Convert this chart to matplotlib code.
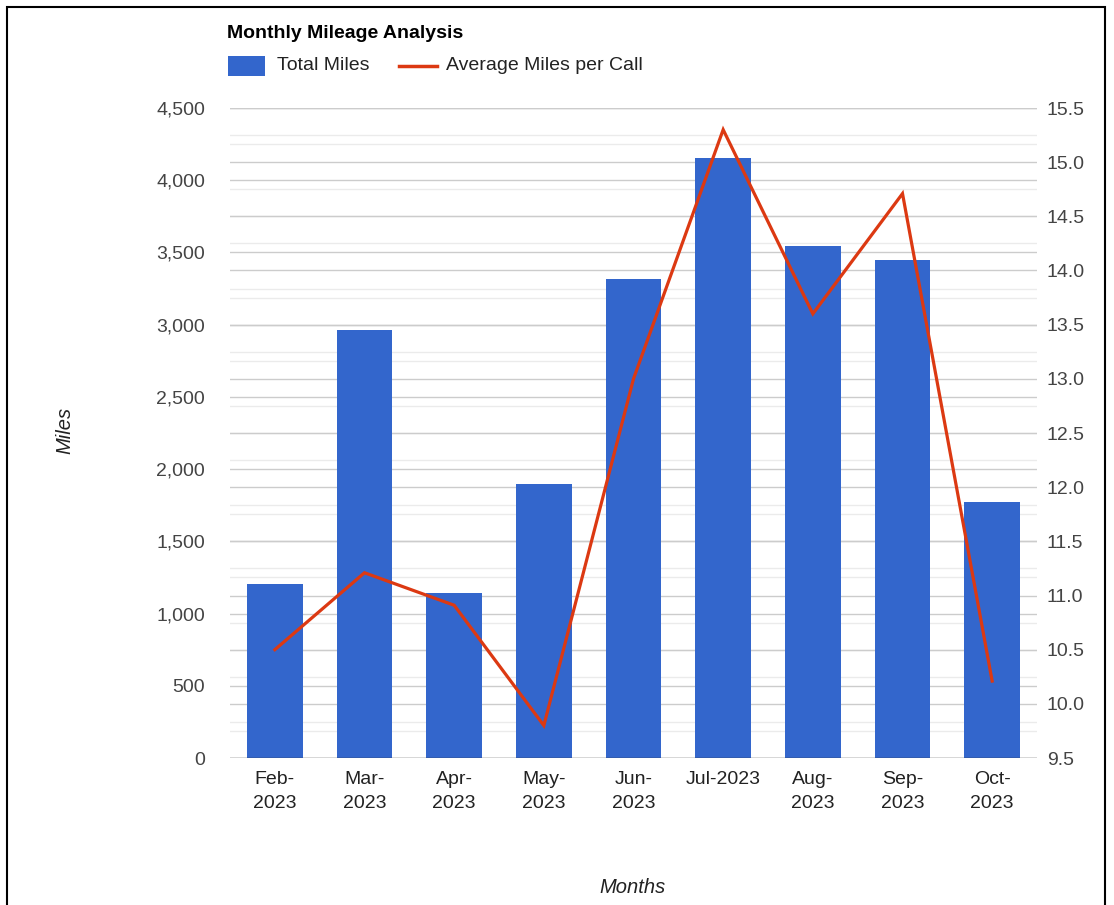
import matplotlib
matplotlib.use("Agg")
import matplotlib.pyplot as plt
import numpy as np
from matplotlib.patches import Rectangle
from matplotlib.lines import Line2D

months = ["Feb-2023", "Mar-2023", "Apr-2023", "May-2023", "Jun-2023",
          "Jul-2023", "Aug-2023", "Sep-2023", "Oct-2023"]
xtick_labels = ["Feb-\n2023", "Mar-\n2023", "Apr-\n2023", "May-\n2023", "Jun-\n2023",
                "Jul-2023", "Aug-\n2023", "Sep-\n2023", "Oct-\n2023"]
total_miles = [1205, 2965, 1140, 1895, 3316, 4155, 3545, 3446, 1770]
avg_miles_per_call = [10.50, 11.21, 10.91, 9.80, 13.0, 15.30, 13.60, 14.71, 10.21]
left_ticks = [0, 500, 1000, 1500, 2000, 2500, 3000, 3500, 4000, 4500]
right_ticks = [9.5, 10.0, 10.5, 11.0, 11.5, 12.0, 12.5, 13.0, 13.5, 14.0, 14.5, 15.0, 15.5]

plt.rcParams['font.family'] = ['Liberation Sans', 'DejaVu Sans']
FS = 14

W, H = 1114, 905
fig = plt.figure(figsize=(W / 100, H / 100), dpi=100)
fig.patch.set_facecolor("white")

# outer frame
fig.patches.append(Rectangle((7 / W, -0.01), (1105 - 7) / W, 1 - 7 / H + 0.01,
                             transform=fig.transFigure, fill=False,
                             edgecolor="black", linewidth=1.5))

ax = fig.add_axes([230 / W, 1 - 758 / H, (1037 - 230) / W, (758 - 108) / H])
ax2 = ax.twinx()

x = np.arange(len(months))
ax.set_xlim(-0.5, len(months) - 0.5)
ax.set_ylim(0, 4500)
ax2.set_ylim(9.5, 15.5)

grid_major = "#cccccc"
grid_minor = "#ebebeb"
for v in np.arange(250, 4500, 500):
    ax.axhline(v, color=grid_minor, lw=1.0, zorder=0)
for v in np.arange(9.75, 15.5, 0.5):
    ax.axhline((v - 9.5) / 6 * 4500, color=grid_minor, lw=1.0, zorder=0)
for v in left_ticks[1:]:
    ax.axhline(v, color=grid_major, lw=1.0, zorder=0.5)
for v in right_ticks[1:]:
    ax.axhline((v - 9.5) / 6 * 4500, color=grid_major, lw=1.0, zorder=0.5)
ax.axhline(0, color="#333333", lw=1.0, zorder=3)

ax.bar(x, total_miles, width=0.62, color="#3366cc", zorder=2)
ax2.plot(x, avg_miles_per_call, color="#dc3912", lw=2.3, zorder=4,
         solid_joinstyle="miter")

for a in (ax, ax2):
    for s in a.spines.values():
        s.set_visible(False)
    a.tick_params(length=0)

ax.set_yticks(left_ticks)
ax.set_yticklabels([f"{v:,}" for v in left_ticks], fontsize=FS, color="#444444")
ax.tick_params(axis="y", pad=18)
ax2.set_yticks(right_ticks)
ax2.set_yticklabels([f"{v:.1f}" for v in right_ticks], fontsize=FS, color="#444444")
ax2.tick_params(axis="y", pad=7)
ax.set_xticks(x)
ax.set_xticklabels(xtick_labels, fontsize=FS, color="#222222", linespacing=1.6,
                   va="top")
ax.tick_params(axis="x", pad=9)

fig.text(65 / W, 1 - 430 / H, "Miles", rotation=90, style="italic",
         fontsize=14.5, color="#222222", ha="center", va="center")
fig.text(633 / W, 1 - 887 / H, "Months", style="italic",
         fontsize=14.5, color="#222222", ha="center", va="center")

fig.text(227 / W, 1 - 34 / H, "Monthly Mileage Analysis", fontweight="bold",
         fontsize=FS, color="black", ha="left", va="center")
fig.patches.append(Rectangle((228 / W, 1 - 76 / H), 37 / W, 20 / H,
                             transform=fig.transFigure, facecolor="#3366cc",
                             edgecolor="none"))
fig.text(277 / W, 1 - 66 / H, "Total Miles", fontsize=FS, color="#222222",
         ha="left", va="center")
fig.lines.append(Line2D([399 / W, 437 / W], [1 - 66 / H, 1 - 66 / H],
                        transform=fig.transFigure, color="#dc3912", lw=2.5))
fig.text(446 / W, 1 - 66 / H, "Average Miles per Call", fontsize=FS,
         color="#222222", ha="left", va="center")

fig.savefig("out.png", dpi=100)
